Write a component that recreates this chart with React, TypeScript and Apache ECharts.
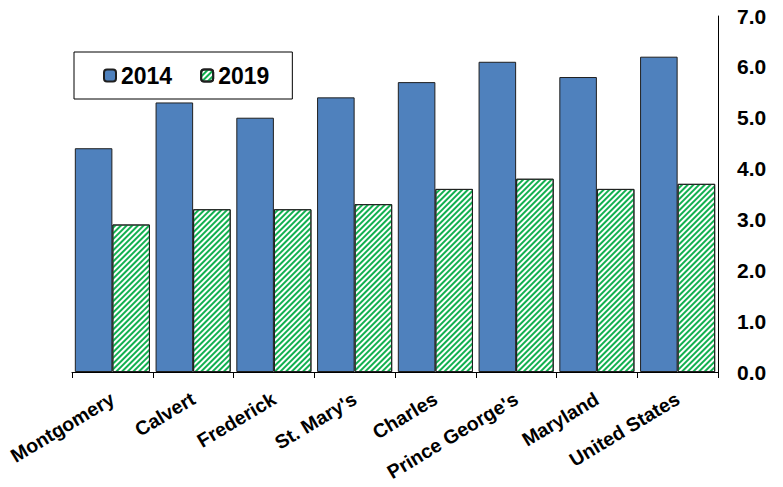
import React, { useEffect, useRef } from "react";
import * as echarts from "echarts";

const categories = ["Montgomery", "Calvert", "Frederick", "St. Mary's", "Charles", "Prince George's", "Maryland", "United States"];
const values2014 = [4.4, 5.3, 5.0, 5.4, 5.7, 6.1, 5.8, 6.2];
const values2019 = [2.9, 3.2, 3.2, 3.3, 3.6, 3.8, 3.6, 3.7];
const seriesNames = ["2014", "2019"];

export default function App() {
  const ref = useRef<HTMLDivElement>(null);
  useEffect(() => {
    if (!ref.current) return;
    const chart = echarts.init(ref.current, null, { renderer: "svg" });
    const font = "'Liberation Sans', Arial, sans-serif";
    chart.setOption({
      animation: false,
      backgroundColor: "#fff",
      textStyle: { fontFamily: font },
      grid: { left: 72, right: 65, top: 16, bottom: 115, containLabel: false, outerBoundsMode: "none" },
      legend: {
        left: 74,
        top: 52,
        data: seriesNames,
        orient: "horizontal",
        borderColor: "#000",
        borderWidth: 1,
        padding: [12, 23, 12, 29],
        itemWidth: 12,
        itemHeight: 12,
        itemGap: 28,
        textStyle: { fontSize: 23, fontWeight: "bold", color: "#000", fontFamily: font },
      },
      xAxis: {
        type: "category",
        data: categories,
        axisLine: { show: true, lineStyle: { color: "#000", width: 1 } },
        axisTick: { show: true, length: 6, lineStyle: { color: "#000" } },
        axisLabel: {
          interval: 0,
          rotate: 31,
          margin: 25,
          color: "#000",
          fontWeight: "bold",
          fontSize: 19.5,
          fontFamily: font,
        },
      },
      yAxis: {
        type: "value",
        position: "right",
        min: 0,
        max: 7,
        interval: 1,
        axisLine: { show: true, lineStyle: { color: "#000", width: 1 } },
        axisTick: { show: false },
        splitLine: { show: false },
        axisLabel: {
          margin: 19,
          color: "#000",
          fontWeight: "bold",
          fontSize: 21,
          fontFamily: font,
          formatter: (v: number) => v.toFixed(1),
        },
      },
      series: [
        {
          name: seriesNames[0],
          type: "bar",
          data: values2014,
          barGap: "0%",
          barCategoryGap: "7%",
          itemStyle: { color: "#4f81bd", borderColor: "#1f1f1f", borderWidth: 1 },
        },
        {
          name: seriesNames[1],
          type: "bar",
          data: values2019,
          barGap: "0%",
          barCategoryGap: "7%",
          itemStyle: {
            color: "#ffffff",
            borderColor: "#1f1f1f",
            borderWidth: 1,
            decal: {
              symbol: "rect",
              symbolSize: 1,
              color: "#12b050",
              dashArrayX: [1, 0],
              dashArrayY: [2, 2],
              rotation: -Math.PI / 4,
            },
          },
        },
      ],
    });
    return () => chart.dispose();
  }, []);
  return <div ref={ref} style={{ position: "absolute", left: 0, top: 0, width: 783, height: 487 }} />;
}
